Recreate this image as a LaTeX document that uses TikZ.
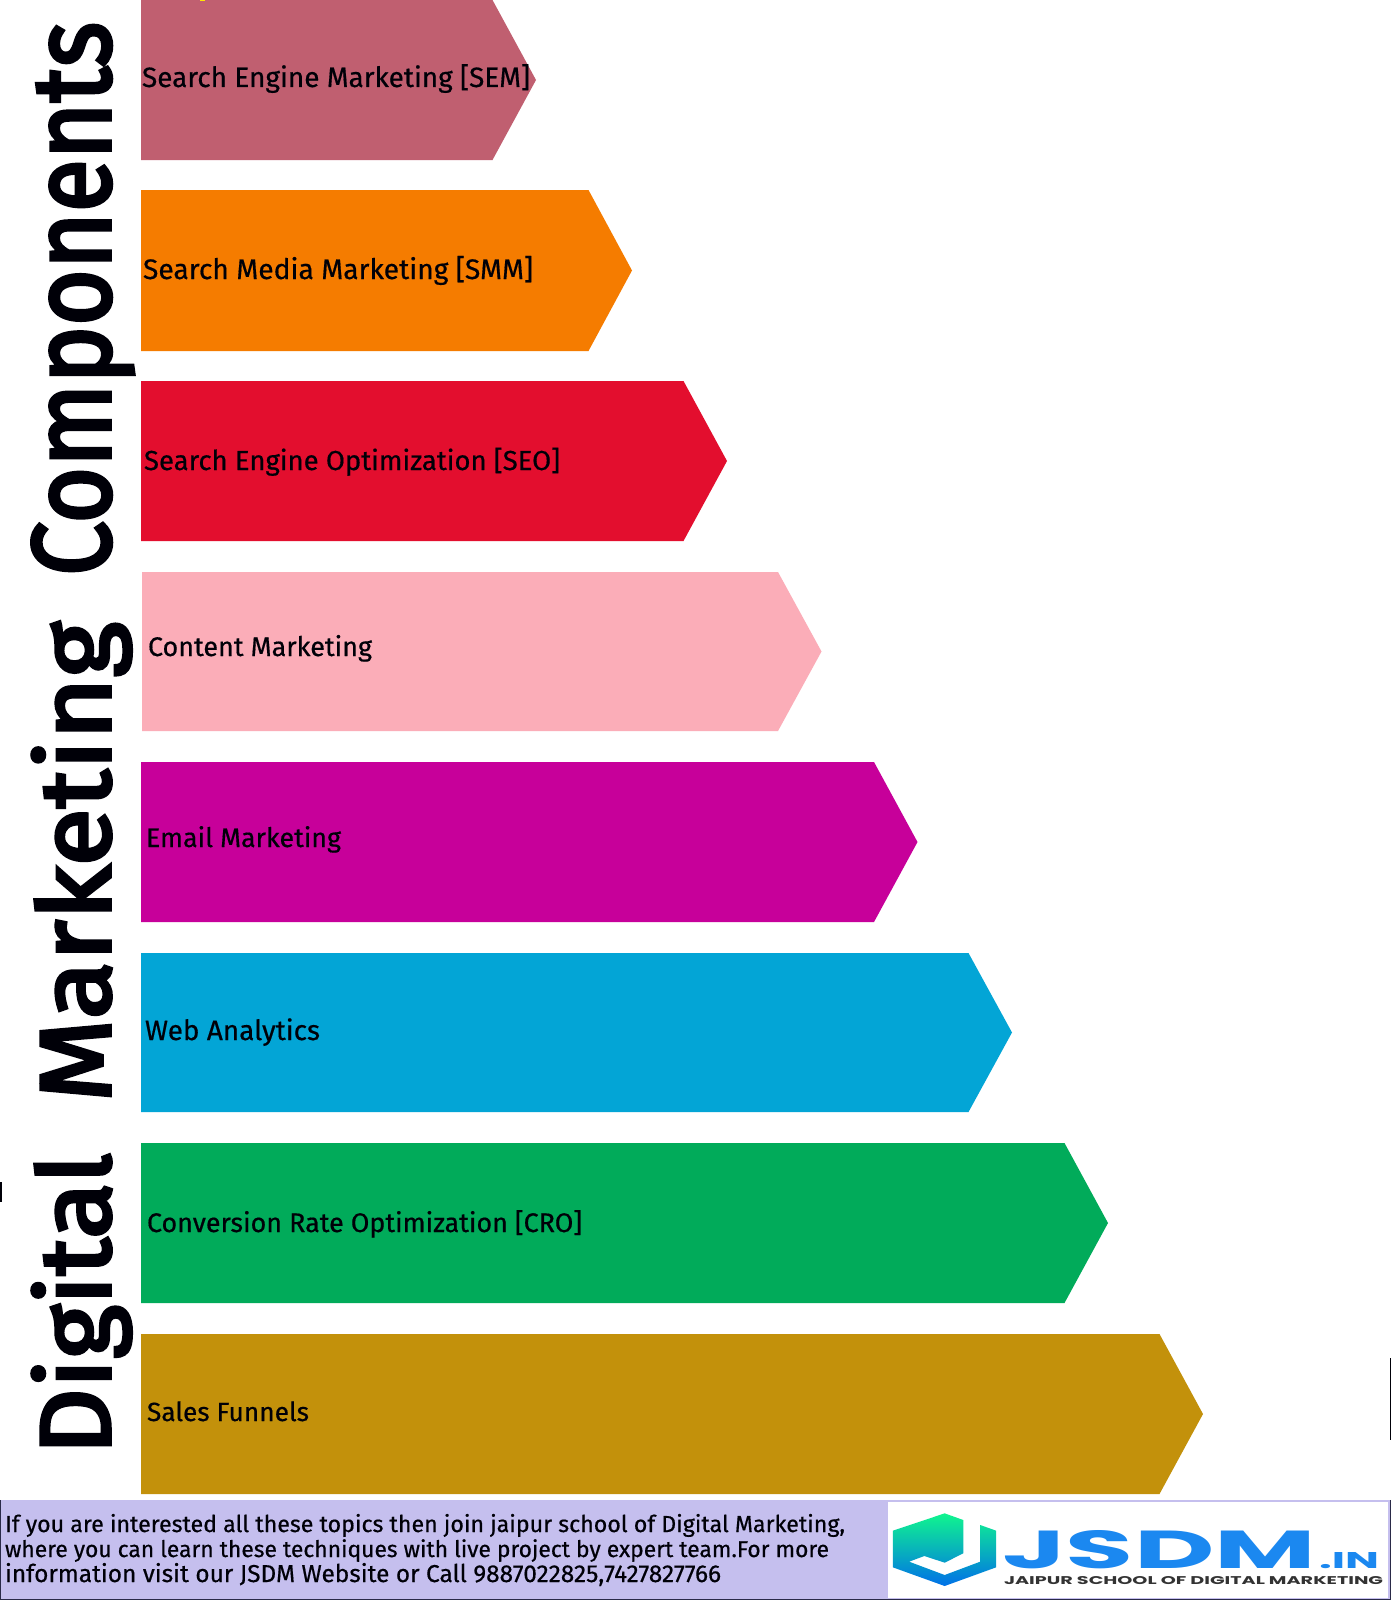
\documentclass[tikz,border=0pt]{standalone}
\usepackage{fontspec}
\usepackage{graphicx}
\setmainfont[FakeBold=0.5]{Fira Sans}
\newfontfamily\titlefont[FakeBold=3.5]{Fira Sans}
\newfontfamily\logofont{Poppins}
\usetikzlibrary{shadings}
\definecolor{cSem}{HTML}{C05F70}
\definecolor{cSmm}{HTML}{F57C00}
\definecolor{cSeo}{HTML}{E30E2E}
\definecolor{cCon}{HTML}{FBADB8}
\definecolor{cEma}{HTML}{C7009A}
\definecolor{cWeb}{HTML}{03A5D6}
\definecolor{cCro}{HTML}{01AB5A}
\definecolor{cFun}{HTML}{C3910B}
\definecolor{cFoot}{HTML}{C5BFEE}
\definecolor{cLogo}{HTML}{1B88F0}
\definecolor{cInk}{HTML}{000008}
\definecolor{cEdge}{HTML}{2A2A48}
\definecolor{cGreen}{HTML}{10F58E}
\definecolor{cBlue}{HTML}{0070E8}
\tikzset{
  barlabel/.style={anchor=base west,inner sep=0pt,outer sep=0pt,text=cInk,font=\fontsize{25}{25}\selectfont},
  footlabel/.style={anchor=base west,inner sep=0pt,outer sep=0pt,text=cInk,font=\fontsize{23}{23}\selectfont},
  logotext/.style={anchor=base west,inner sep=0pt,outer sep=0pt,font=\logofont\bfseries},
}
\newcommand{\arrowbar}[5][141]{\fill[#5] (#1,#2) -- (#4,#2) -- ({#4+43.5},{(#2+#3)/2}) -- (#4,#3) -- (#1,#3) -- cycle;}
\begin{document}
\begin{tikzpicture}[x=1pt,y=-1pt]
\useasboundingbox (0,0) rectangle (1391,1600);
\fill[white] (0,0) rectangle (1391,1600);
\arrowbar{0}{160}{492.5}{cSem}
\arrowbar{190}{351}{588.5}{cSmm}
\arrowbar{381}{541}{683.5}{cSeo}
\arrowbar[142]{572}{731}{778}{cCon}
\arrowbar{762}{922}{874}{cEma}
\arrowbar{953}{1112}{968.5}{cWeb}
\arrowbar{1143}{1303}{1064.5}{cCro}
\arrowbar{1334}{1494}{1159.5}{cFun}
\node[barlabel] (l1) at (142,87) {\resizebox{388pt}{!}{Search Engine Marketing [SEM]}};
\node[barlabel] (l2) at (143,279) {\resizebox{390pt}{!}{Search Media Marketing [SMM]}};
\node[barlabel] (l3) at (144,470) {\resizebox{416pt}{!}{Search Engine Optimization [SEO]}};
\node[barlabel] (l4) at (148,656) {\resizebox{224pt}{!}{Content Marketing}};
\node[barlabel] (l5) at (146,847) {\resizebox{195pt}{!}{Email Marketing}};
\node[barlabel] (l6) at (145,1040) {\resizebox{175pt}{!}{Web Analytics}};
\node[barlabel] (l7) at (147,1232) {\resizebox{435pt}{!}{Conversion Rate Optimization [CRO]}};
\node[barlabel] (l8) at (147,1421) {\resizebox{162pt}{!}{Sales Funnels}};
\node[anchor=base west,inner sep=0pt,outer sep=0pt,rotate=90,text=cInk] (title) at (110,1455)
  {\titlefont\fontsize{112}{112}\selectfont\resizebox{302pt}{78pt}{Digital}\hspace{51pt}\resizebox{480pt}{78pt}{Marketing}\hspace{46pt}\resizebox{554pt}{78pt}{Components}};
\fill[cFoot] (0,1500) rectangle (1391,1600);
\draw[cEdge,line width=1pt] (0.5,1500) -- (0.5,1599.5) -- (1391,1599.5);
\draw[cEdge,line width=1pt] (1390.5,1500) -- (1390.5,1599.5);
\fill[white] (888,1502) rectangle (1388,1598);
\node[footlabel] (f1) at (5,1532) {\resizebox{840pt}{!}{If you are interested all these topics then join jaipur school of Digital Marketing,}};
\node[footlabel] (f2) at (5,1557) {\resizebox{824pt}{!}{where you can learn these techniques with live project by expert team.For more}};
\node[footlabel] (f3) at (5,1582) {\resizebox{716pt}{!}{information visit our JSDM Website or Call 9887022825,7427827766}};
\begin{scope}[shift={(860,1480)},xscale=0.3386,yscale=0.3333]
\shade[top color=cGreen,bottom color=cBlue]
 (250,100) -- (305,120) -- (305,220) -- (250,248) -- (190,228) -- (145,245) -- (250,285) -- (355,245) -- (355,135) -- (402,152) -- (402,262) -- (250,318) -- (97,262) -- (97,152) -- cycle;
\end{scope}
\node[logotext,text=cLogo] (jsdm) at (1002,1568) {\resizebox{314pt}{38pt}{JSDM}};
\node[logotext,text=cLogo] (dotin) at (1319,1568) {\resizebox{60pt}{16pt}{.IN}};
\node[logotext,text=black!80] (sub) at (1004,1584) {\resizebox{379pt}{8pt}{JAIPUR SCHOOL OF DIGITAL MARKETING}};
\fill[cInk] (0,1182) rectangle (2,1202);
\fill[cInk] (1390,1358) rectangle (1391,1440);
\fill[yellow!90!orange] (200,0) rectangle (205,1.5);
\end{tikzpicture}
\end{document}
